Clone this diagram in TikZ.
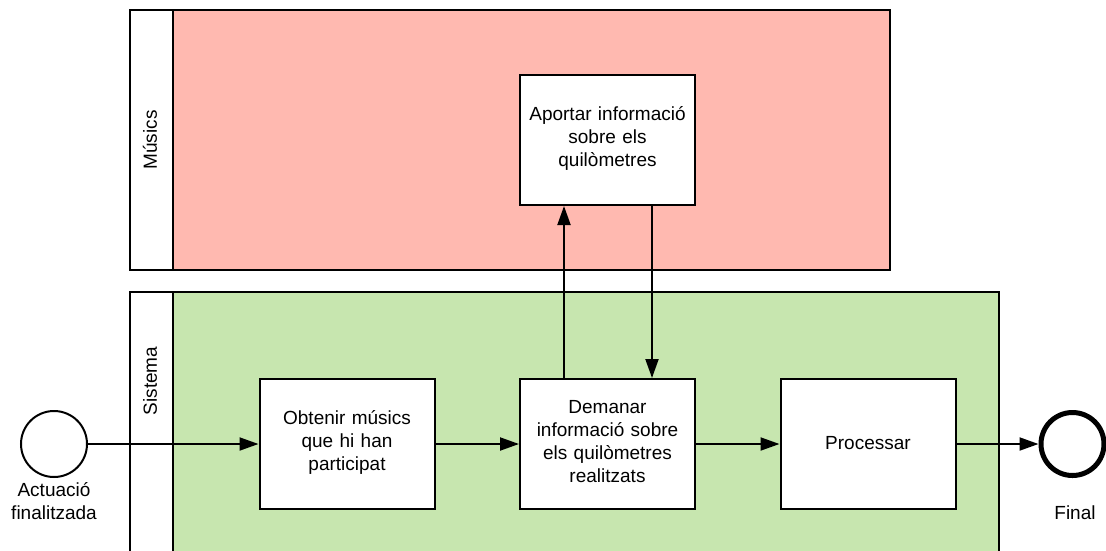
\documentclass[tikz,border=0pt]{standalone}
\usepackage{fontspec}
\setmainfont{Liberation Sans}
\usetikzlibrary{arrows.meta}
\definecolor{lanepink}{RGB}{255,185,176}
\definecolor{lanegreen}{RGB}{199,230,175}
\tikzset{
  every node/.style={font=\fontsize{19}{23.3}\selectfont},
  task/.style={draw, fill=white, line width=2pt, minimum width=175pt, minimum height=130pt,
    align=center, text width=165pt, inner sep=0pt},
  lanebox/.style={draw, line width=2pt},
  lanetitle/.style={rotate=90},
  flow/.style={line width=2pt, -{Triangle[length=19pt,width=13pt]}},
  startev/.style={draw, circle, line width=2pt, fill=white, minimum size=66pt, inner sep=0pt},
  endev/.style={draw, circle, line width=5pt, fill=white, minimum size=63pt, inner sep=0pt},
  evlabel/.style={align=center, inner sep=0pt},
}
\begin{document}
\begin{tikzpicture}[x=1pt, y=-1pt]
\useasboundingbox (0,0) rectangle (1106,550);
\begin{scope}
\clip (0,0) rectangle (1106,550);
% pool: Músics
\fill[lanepink] (173,10) rectangle (890,270);
\draw[lanebox] (130,10) rectangle (890,270);
\draw[lanebox] (173,10) -- (173,270);
\node[lanetitle] (musics) at (150,140) {Músics};
% pool: Sistema (runs past the lower edge)
\fill[lanegreen] (173,292) rectangle (999,570);
\draw[lanebox] (130,570) -- (130,292) -- (999,292) -- (999,570);
\draw[lanebox] (173,292) -- (173,570);
\node[lanetitle] (sistema) at (150,381) {Sistema};
\end{scope}
% tasks
\node[task] (apo) at (607.5,140) {Aportar informació\\sobre els\\quilòmetres\vspace{3pt}};
\node[task] (obt) at (347,444) {Obtenir músics\\que hi han\\participat\vspace{3pt}};
\node[task] (dem) at (607.5,444) {Demanar\\informació sobre\\els quilòmetres\\realitzats\vspace{5pt}};
\node[task] (pro) at (868,444) {Processar\vspace{2pt}};
% events
\node[startev] (start) at (54,444) {};
\node[evlabel, anchor=north] (startlbl) at (54,482) {Actuació\\finalitzada};
\node[endev] (end) at (1072.5,444) {};
\node[evlabel, anchor=base] (endlbl) at (1075,519) {Final};
% sequence flows
\coordinate (upx) at (564,0);
\coordinate (downx) at (652,0);
\draw[flow] (start) -- (obt.west);
\draw[flow] (obt) -- (dem);
\draw[flow] (dem) -- (pro);
\draw[flow] (pro) -- (end);
\draw[flow] (dem.north -| upx) -- (apo.south -| upx);
\draw[flow] (apo.south -| downx) -- (dem.north -| downx);
\end{tikzpicture}
\end{document}
